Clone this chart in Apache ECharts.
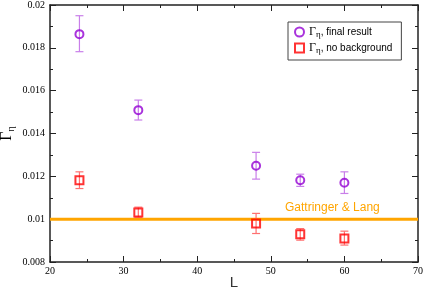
<!DOCTYPE html>
<html><head><meta charset="utf-8">
<script src="https://cdn.jsdelivr.net/npm/echarts@6/dist/echarts.min.js"></script>
<style>html,body{margin:0;padding:0;background:#fff}#c{width:424px;height:289px}</style>
</head><body><div id="c"></div>
<script>
var L = [24, 32, 48, 54, 60];
var finalVal = [0.01864, 0.01509, 0.01249, 0.01182, 0.01170];
var finalLo  = [0.01782, 0.01463, 0.01187, 0.01153, 0.01120];
var finalHi  = [0.01950, 0.01556, 0.01312, 0.01210, 0.01221];
var noBgVal = [0.01182, 0.01031, 0.00980, 0.00930, 0.00910];
var noBgLo  = [0.01143, 0.01009, 0.00933, 0.00902, 0.00879];
var noBgHi  = [0.01221, 0.01056, 0.01027, 0.00956, 0.00944];
var glValue = 0.01;
var xRange = [20, 70];
var yRange = [0.008, 0.02];

var purple = '#9400d3', purpleLight = '#c97fe9';
var red = '#ff0000', redLight = '#ff7070';
var orange = '#ffa500';

function pts(v){ return L.map(function(x,i){ return [x, v[i]]; }); }
function errs(lo,hi){ return L.map(function(x,i){ return [x, lo[i], hi[i]]; }); }

function errRender(color){
  return function(params, api){
    var x = api.value(0);
    var p1 = api.coord([x, api.value(1)]);
    var p2 = api.coord([x, api.value(2)]);
    var w = 4;
    var st = {stroke: color, lineWidth: 1.2};
    return {type:'group', children:[
      {type:'line', shape:{x1:p1[0],y1:p1[1],x2:p2[0],y2:p2[1]}, style:st},
      {type:'line', shape:{x1:p1[0]-w,y1:p1[1],x2:p1[0]+w,y2:p1[1]}, style:st},
      {type:'line', shape:{x1:p2[0]-w,y1:p2[1],x2:p2[0]+w,y2:p2[1]}, style:st}
    ]};
  };
}

var axisLine = {show:true, lineStyle:{color:'#222', width:1.5}};
var tickStyle = {show:true, inside:true, length:6, lineStyle:{color:'#222', width:1}};
var minorStyle = {show:true, splitNumber:2, length:3, lineStyle:{color:'#222', width:1}};
var labelFont = {fontFamily:'Liberation Serif', fontSize:10, color:'#000'};

var chart = echarts.init(document.getElementById('c'), null, {renderer:'canvas'});
chart.setOption({
  animation:false,
  backgroundColor:'#fff',
  grid:{left:50, right:6, top:5, bottom:27, containLabel:false, outerBoundsMode:'none'},
  xAxis:[
    {type:'value', min:xRange[0], max:xRange[1], interval:10, position:'bottom',
     axisLine:axisLine, axisTick:tickStyle, minorTick:minorStyle, splitLine:{show:false},
     axisLabel:Object.assign({margin:4}, labelFont)},
    {type:'value', min:xRange[0], max:xRange[1], interval:10, position:'top',
     axisLine:axisLine, axisTick:tickStyle, minorTick:minorStyle, splitLine:{show:false},
     axisLabel:{show:false}}
  ],
  yAxis:[
    {type:'value', min:yRange[0], max:yRange[1], interval:0.002, position:'left',
     axisLine:axisLine, axisTick:tickStyle, minorTick:minorStyle, splitLine:{show:false},
     axisLabel:Object.assign({margin:5, formatter:function(v){ return String(+v.toFixed(4)); }}, labelFont)},
    {type:'value', min:yRange[0], max:yRange[1], interval:0.002, position:'right',
     axisLine:axisLine, axisTick:tickStyle, minorTick:minorStyle, splitLine:{show:false},
     axisLabel:{show:false}}
  ],
  legend:{
    left:288, top:22, orient:'vertical', itemGap:3,
    backgroundColor:'#fff', borderColor:'#444', borderWidth:1, borderRadius:0,
    padding:[4,9,5,6], itemWidth:9, itemHeight:9,
    selectedMode:false,
    data:[
      {name:'final', icon:'circle', itemStyle:{color:'#fff', borderColor:purple, borderWidth:2}},
      {name:'nobg', icon:'rect', itemStyle:{color:'#fff', borderColor:red, borderWidth:2}}
    ],
    formatter:function(n){
      return n === 'final' ? '{g|Γ}{s|η}{t|, final result}' : '{g|Γ}{s|η}{t|, no background}';
    },
    textStyle:{rich:{
      g:{fontFamily:'Liberation Serif', fontSize:12, color:'#000', lineHeight:14, verticalAlign:'middle'},
      s:{fontFamily:'Liberation Serif', fontSize:9, color:'#000', lineHeight:14, verticalAlign:'bottom'},
      t:{fontFamily:'Liberation Sans', fontSize:10, color:'#000', lineHeight:14, verticalAlign:'middle'}
    }}
  },
  graphic:[
    {type:'text', x:285, y:207.5, style:{text:'Gattringer & Lang', fill:orange,
      font:'12px "Liberation Sans"', verticalAlign:'middle', align:'left'}},
    {type:'text', x:234, y:282.5, style:{text:'L', fill:'#333',
      font:'15px "Liberation Sans"', verticalAlign:'middle', align:'center'}},
    {type:'text', x:6.5, y:136, rotation:Math.PI/2, style:{text:'Γ', fill:'#000',
      font:'16px "Liberation Serif"', verticalAlign:'middle', align:'center'}},
    {type:'text', x:11.5, y:129, rotation:Math.PI/2, style:{text:'η', fill:'#000',
      font:'10px "Liberation Serif"', verticalAlign:'middle', align:'center'}}
  ],
  series:[
    {type:'line', data:[[xRange[0], glValue],[xRange[1], glValue]], symbol:'none',
     lineStyle:{color:orange, width:3}, silent:true, z:1},
    {type:'custom', data:errs(finalLo, finalHi), renderItem:errRender(purpleLight), z:2, silent:true},
    {type:'custom', data:errs(noBgLo, noBgHi), renderItem:errRender(redLight), z:2, silent:true},
    {name:'final', type:'scatter', data:pts(finalVal), symbol:'circle', symbolSize:8,
     itemStyle:{color:'rgba(255,255,255,0)', borderColor:purple, borderWidth:2}, z:3},
    {name:'nobg', type:'scatter', data:pts(noBgVal), symbol:'rect', symbolSize:8,
     itemStyle:{color:'rgba(255,255,255,0)', borderColor:red, borderWidth:2}, z:3}
  ]
});
</script></body></html>
